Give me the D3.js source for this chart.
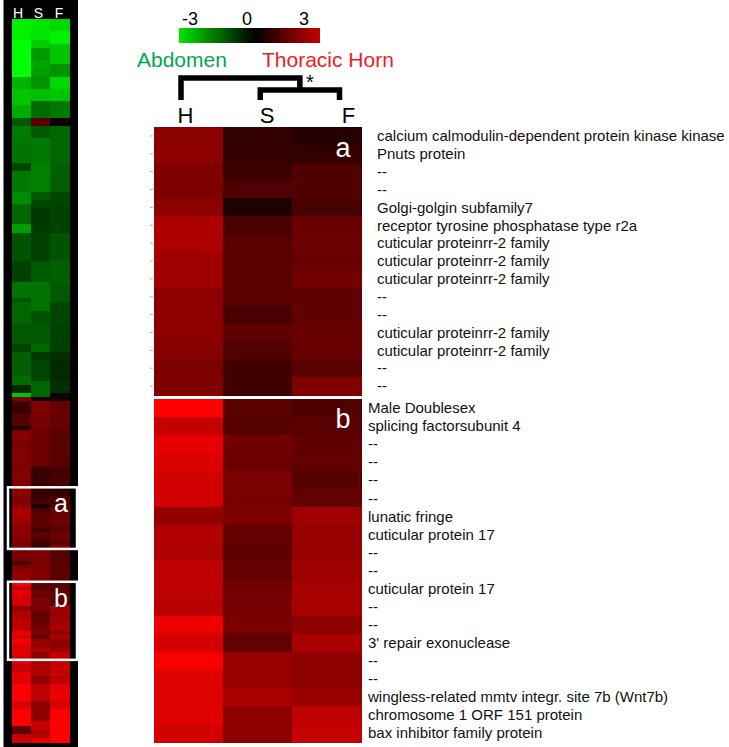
<!DOCTYPE html>
<html>
<head>
<meta charset="utf-8">
<script src="https://cdn.jsdelivr.net/npm/d3@7"></script>
<style>
body { margin: 0; background: #fff; }
svg { display: block; font-family: "Liberation Sans", Arial, sans-serif; }
</style>
</head>
<body>
<div id="chart"></div>
<script>
var width = 729, height = 747;

var samples = ["H", "S", "F"];
var legendTicks = [-3, 0, 3];
var groups = ["Abdomen", "Thoracic Horn"];

// detail panel a
var genesA = ["calcium calmodulin-dependent protein kinase kinase", "Pnuts protein", "--", "--",
    "Golgi-golgin subfamily7", "receptor tyrosine phosphatase type r2a", "cuticular proteinrr-2 family",
    "cuticular proteinrr-2 family", "cuticular proteinrr-2 family", "--", "--",
    "cuticular proteinrr-2 family", "cuticular proteinrr-2 family", "--", "--"];
var aH = [2.2, 2.2, 2.0, 1.95, 2.2, 2.7, 2.7, 2.5, 2.5, 2.2, 2.2, 2.2, 2.1, 1.95, 2.0];
var aS = [0.8, 0.8, 0.95, 1.25, 0.45, 1.15, 1.4, 1.4, 1.4, 1.4, 1.15, 1.5, 1.3, 1.0, 1.0];
var aF = [0.6, 0.8, 1.25, 1.25, 1.15, 1.65, 1.7, 1.65, 1.8, 1.5, 1.5, 1.65, 1.65, 1.4, 2.0];

// detail panel b
var genesB = ["Male Doublesex", "splicing factorsubunit 4", "--", "--", "--", "--", "lunatic fringe",
    "cuticular protein 17", "--", "--", "cuticular protein 17", "--", "--", "3' repair exonuclease",
    "--", "--", "wingless-related mmtv integr. site 7b (Wnt7b)", "chromosome 1 ORF 151 protein",
    "bax inhibitor family protein"];
var bH = [4.0, 3.1, 3.6, 3.45, 3.3, 3.3, 2.3, 2.8, 2.75, 3.0, 3.0, 2.9, 3.75, 3.35, 3.9, 3.5, 3.5, 3.5, 3.3];
var bS = [1.4, 1.35, 1.8, 1.7, 1.95, 1.9, 1.95, 1.55, 1.5, 1.55, 1.8, 1.9, 1.9, 1.5, 2.35, 2.35, 2.65, 2.2, 2.2];
var bF = [1.25, 1.4, 1.5, 1.55, 1.35, 1.55, 2.5, 2.35, 2.4, 2.5, 2.6, 2.6, 2.2, 2.65, 2.2, 2.2, 2.4, 3.0, 3.1];

// overview rows above box a (114), between a and b (8), below b (20)
var upperH = [-3.8, -3.8, -3.8, -3.8, -3.8, -4, -4, -4, -4, -4, -4, -4, -4, -4,
    -2.8, -2.8, -2.8, -3.1, -3.1, -3.1, -3.1, -2.7, -2.7, -2.7, -1.4, -1.4,
    -1.9, -1.9, -1.9, -1.9, -1.8, -1.8, -1.8, -1.8, -1.8, -1.1, -1.1,
    -1.9, -1.9, -1.9, -1.9, -1.9, -2.2, -2.2, -2.2, -1.6, -1.6, -1.6, -1.6, -1.6,
    -2.5, -2.5, -1.3, -1.3, -1.3, -1.3, -1.3, -1.3, -1.3, -1.0, -1.0, -1.0, -1.0, -1.0,
    -1.8, -1.8, -1.8, -1.8, -1.3, -1.6, -1.6, -1.6, -1.6, -1.6, -1.4, -1.4, -1.4, -1.4, -1.4,
    -1.05, -1.05, -1.5, -1.5, -1.5, -1.5, -1.5, -1.5, -1.7, -1.7, -0.65, -0.65, -3.1,
    2.0, 1.0, 0.9, 0.9, 1.25, 1.25, 1.25, 0.5,
    2.0, 2.1, 2.0, 1.9, 2.0, 2.0, 2.1, 2.0, 1.9, 2.0, 2.0, 2.1, 2.0, 2.0];
var middleH = [1.9, 1.9, 1.9, 1.2, 1.9, 2.3, 2.3, 2.3];
var lowerH = [3.6, 3.1, 3.1, 3.6, 3.6, 3.6, 4, 4, 4, 4, 3.4, 3.4, 4, 4, 4, 4, 1.5, 1.5, 3.1, 3.1];

var upperS = [-3.6, -3.6, -3.6, -3.6, -3.6, -3.2, -3.2, -2.4, -2.4, -2.4, -2.6, -2.6, -2.5, -2.5,
    -2.3, -2.3, -2.3, -3.0, -3.0, -3.0, -1.7, -1.7, -1.7, -1.7, 1.4, 1.4,
    -1.4, -1.4, -1.4, -1.9, -1.9, -1.9, -1.9, -1.9, -1.9,
    -2.0, -2.0, -2.0, -2.0, -2.0, -2.0, -2.0, -1.4, -1.4, -1.1, -1.1,
    -0.9, -0.9, -0.9, -0.9, -0.9, -0.9, -1.0, -1.0, -1.0, -1.0, -1.0, -1.0, -1.0,
    -1.4, -1.4, -1.4, -1.4, -1.4, -1.8, -1.8, -1.8, -1.8, -1.8, -1.8, -1.8, -1.3, -1.3, -1.3,
    -1.4, -1.4, -1.4, -1.4, -1.4, -1.6, -1.6, -0.9, -0.9, -1.1, -1.1, -1.1, -1.1, -1.1,
    -1.6, -1.6, -1.6, -1.6, 0.3, 2.0, 2.0, 2.0, 1.9, 1.9, 1.9, 1.9,
    1.7, 1.7, 1.7, 1.7, 1.7, 1.7, 1.7, 1.7, 1.7, 0.9, 0.9, 0.9, 0.9, 0.9];
var middleS = [1.9, 2.0, 1.9, 1.9, 2.0, 2.0, 2.0, 1.9];
var lowerS = [2.7, 2.7, 2.7, 2.7, 2.3, 2.3, 3.0, 3.0, 3.0, 3.0, 2.2, 2.2, 2.2, 2.2, 2.2, 3.1, 3.1, 2.7, 2.7, 3.6];

var upperF = [-3.4, -3.4, -3.4, -3.8, -3.8, -3.8, -3.1, -3.1, -3.1, -3.1, -3.1, -2.3, -2.3, -2.3,
    -3.4, -3.4, -3.4, -3.1, -3.1, -3.1, -1.9, -1.9, -1.9, -1.9, 0.3, 0.1,
    -1.6, -1.6, -1.6, -1.6, -1.6, -1.6, -1.6, -1.6, -1.6,
    -1.5, -1.5, -1.5, -1.5, -1.5, -1.5, -1.5, -1.1, -1.1, -1.1,
    -1.0, -1.0, -1.0, -1.0, -1.0, -1.0, -1.0, -1.3, -1.3, -1.3, -1.3, -1.3, -1.3, -1.3,
    -1.5, -1.5, -1.5, -1.5, -1.5, -1.4, -1.4, -1.4, -1.4, -1.4, -1.1, -1.1, -1.1, -1.1, -1.1,
    -1.0, -1.0, -1.0, -1.0, -1.0, -1.0, -1.0, -0.75, -0.75, -0.65, -0.65, -0.65, -0.65, -0.65,
    -0.75, -0.75, -0.75, 0.3, 0.3, 1.6, 1.6, 1.6, 1.6, 1.6, 1.6, 1.6,
    1.4, 1.4, 1.4, 1.4, 1.4, 1.4, 1.4, 1.4, 1.4, 1.1, 1.1, 1.1, 1.1, 1.1];
var middleF = [1.3, 1.4, 1.4, 1.4, 1.4, 1.5, 1.4, 1.4];
var lowerF = [3.1, 3.1, 3.1, 3.1, 3.0, 3.0, 3.6, 3.6, 3.6, 3.6, 3.4, 3.4, 4, 4, 4, 4, 4, 4, 4, 4];

var overviewH = [].concat(upperH, aH, middleH, bH, lowerH);
var overviewS = [].concat(upperS, aS, middleS, bS, lowerS);
var overviewF = [].concat(upperF, aF, middleF, bF, lowerF);

var color = d3.scaleLinear()
    .domain([-4, 0, 4])
    .range(["#00ff00", "#000000", "#ff0000"])
    .clamp(true);

var svg = d3.select("#chart").append("svg")
    .attr("width", width)
    .attr("height", height);

function toRows(cols) {
    return cols[0].map(function(d, i) {
        return { row: i, values: cols.map(function(c) { return c[i]; }) };
    });
}

function drawHeat(g, rows, x, y) {
    g.selectAll("g.row")
        .data(rows).enter()
        .append("g").attr("class", "row")
        .selectAll("rect")
        .data(function(r) { return r.values.map(function(v, j) { return { row: r.row, col: samples[j], v: v }; }); })
        .enter().append("rect")
        .attr("x", function(d) { return x(d.col); })
        .attr("y", function(d) { return y(d.row); })
        .attr("width", x.bandwidth() + 0.5)
        .attr("height", y.bandwidth() + 0.5)
        .attr("shape-rendering", "crispEdges")
        .attr("fill", function(d) { return color(d.v); });
}

// ---- overview strip on the left
var ovRows = toRows([overviewH, overviewS, overviewF]);
svg.append("rect").attr("x", 3.5).attr("y", 0).attr("width", 74.5).attr("height", height).attr("fill", "#000");

var xOv = d3.scaleBand().domain(samples).range([12, 69]);
var yOv = d3.scaleBand().domain(d3.range(ovRows.length)).range([19, 742]);
drawHeat(svg.append("g"), ovRows, xOv, yOv);

var xOvLabel = d3.scalePoint().domain(samples).range([18, 59]);
svg.append("g").selectAll("text")
    .data(samples).enter().append("text")
    .attr("x", function(d) { return xOvLabel(d); })
    .attr("y", 18)
    .attr("text-anchor", "middle")
    .attr("fill", "#fff")
    .attr("font-size", 14)
    .text(function(d) { return d; });

var boxes = [
    { name: "a", start: upperH.length, n: aH.length },
    { name: "b", start: upperH.length + aH.length + middleH.length, n: bH.length }
];
var boxG = svg.append("g").selectAll("g").data(boxes).enter().append("g");
boxG.append("rect")
    .attr("x", 8)
    .attr("y", function(d) { return yOv(d.start); })
    .attr("width", 69)
    .attr("height", function(d) { return yOv.step() * d.n; })
    .attr("fill", "none")
    .attr("stroke", "#fff")
    .attr("stroke-width", 2.5);
boxG.append("text")
    .attr("x", 61)
    .attr("y", function(d) { return yOv(d.start) + 25; })
    .attr("text-anchor", "middle")
    .attr("fill", "#fff")
    .attr("font-size", 25)
    .text(function(d) { return d.name; });

// ---- colour legend
var legendX = d3.scaleLinear().domain([-3, 3]).range([190, 304]);
var defs = svg.append("defs");
var grad = defs.append("linearGradient").attr("id", "legendGrad");
var gradLo = -3.6, gradHi = 3.1;
grad.selectAll("stop")
    .data(d3.range(0, 1.0001, 0.05)).enter().append("stop")
    .attr("offset", function(t) { return (t * 100) + "%"; })
    .attr("stop-color", function(t) { return color(gradLo + t * (gradHi - gradLo)); });
svg.append("rect")
    .attr("x", 179).attr("y", 28)
    .attr("width", 141).attr("height", 15)
    .attr("fill", "url(#legendGrad)");
svg.append("g").selectAll("text")
    .data(legendTicks).enter().append("text")
    .attr("x", function(d) { return legendX(d); })
    .attr("y", 25)
    .attr("text-anchor", "middle")
    .attr("font-size", 18)
    .attr("fill", "#000")
    .text(function(d) { return d; });

svg.append("g").selectAll("text")
    .data(groups).enter().append("text")
    .attr("x", function(d, i) { return i ? 262 : 137; })
    .attr("y", 67)
    .attr("font-size", 21)
    .attr("fill", function(d, i) { return i ? "#ed1c24" : "#00a651"; })
    .text(function(d) { return d; });

// ---- dendrogram over the detail columns
var xLeg = d3.scalePoint().domain(samples).range([181, 339.5]);
var midSF = (xLeg("S") + xLeg("F")) / 2;
var dendro = [
    "M" + xLeg("H") + ",100V78H" + midSF + "V90",
    "M" + xLeg("S") + ",100V90H" + xLeg("F") + "V100"
];
svg.append("g").selectAll("path")
    .data(dendro).enter().append("path")
    .attr("d", function(d) { return d; })
    .attr("fill", "none")
    .attr("stroke", "#000")
    .attr("stroke-width", 5.5)
    .attr("stroke-linejoin", "miter");
svg.append("text").attr("x", 310).attr("y", 89).attr("text-anchor", "middle")
    .attr("font-size", 20).text("*");

var xTop = d3.scalePoint().domain(samples).range([185.5, 348.5]);
svg.append("g").selectAll("text")
    .data(samples).enter().append("text")
    .attr("x", function(d) { return xTop(d); })
    .attr("y", 123)
    .attr("text-anchor", "middle")
    .attr("font-size", 22)
    .text(function(d) { return d; });

// ---- detail panels
var xDet = d3.scaleBand().domain(samples).range([154, 361]);

function panel(genes, cols, y0, y1, labelX, letter, letterY, ticks) {
    var y = d3.scaleBand().domain(d3.range(genes.length)).range([y0, y1]);
    var g = svg.append("g");
    drawHeat(g, toRows(cols), xDet, y);
    g.append("g").selectAll("text")
        .data(genes).enter().append("text")
        .attr("x", labelX)
        .attr("y", function(d, i) { return y(i) + y.bandwidth() / 2; })
        .attr("dy", "0.35em")
        .attr("font-size", 15)
        .attr("fill", "#111")
        .text(function(d) { return d; });
    g.append("text")
        .attr("x", 343).attr("y", letterY)
        .attr("text-anchor", "middle")
        .attr("font-size", 27)
        .attr("fill", "#fff")
        .text(letter);
    if (ticks) {
        var ax = g.append("g").attr("transform", "translate(" + (xDet.range()[0] - 1) + ",0)")
            .call(d3.axisLeft(y).tickSize(3).tickFormat(""));
        ax.select(".domain").remove();
        ax.selectAll("line").attr("stroke", "#aaa");
    }
}

panel(genesA, [aH, aS, aF], 127, 395, 377, "a", 157, true);
panel(genesB, [bH, bS, bF], 399, 742, 368, "b", 428, false);
</script>
</body>
</html>
